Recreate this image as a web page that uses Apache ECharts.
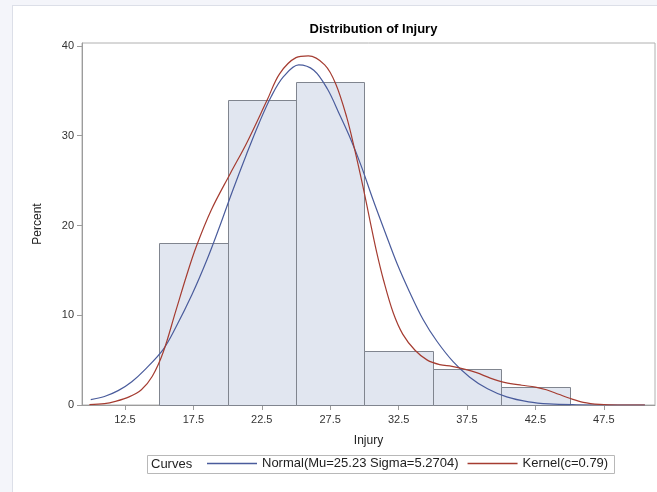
<!DOCTYPE html>
<html>
<head>
<meta charset="utf-8">
<title>Distribution of Injury</title>
<script src="https://cdn.jsdelivr.net/npm/echarts@6/dist/echarts.min.js"></script>
<style>
  html, body { margin: 0; padding: 0; background: #f4f5fa; }
  #panel { position: absolute; left: 12px; top: 5px; width: 700px; height: 600px;
           background: #ffffff; border: 1px solid #dcdfe8; box-sizing: border-box; }
  #chart { position: absolute; left: 0; top: 0; width: 657px; height: 492px; }
</style>
</head>
<body>
<div id="panel"></div>
<div id="chart"></div>
<script>
// Histogram bins (lower edge, upper edge) and the percent of observations in each
const binLower = [15, 20, 25, 30, 35, 40];
const binUpper = [20, 25, 30, 35, 40, 45];
const binPercent = [18, 34, 36, 6, 4, 2];

// Fitted normal density curve, in percent units: [injury, percent]
const normalX = [10.0, 11.0, 12.0, 13.0, 14.0, 15.3, 16.2, 17.4, 18.5, 19.4, 20.3, 21.4, 22.3, 23.2, 24.1, 25.2, 26.3, 27.3, 28.2, 29.0, 29.8, 30.6, 31.5, 32.4, 33.3, 34.3, 35.3, 36.5, 37.7, 39.0, 40.4, 42.0, 43.5, 45.5, 48.0, 50.5];
const normalY = [0.6, 0.95, 1.6, 2.6, 4.0, 6.2, 8.6, 12.3, 16.2, 19.8, 23.6, 28.0, 31.4, 34.4, 36.6, 37.9, 37.3, 35.2, 32.3, 29.6, 26.5, 23.0, 19.3, 15.7, 12.6, 9.5, 7.1, 4.8, 3.1, 1.8, 0.9, 0.35, 0.12, 0.03, 0.0, 0.0];

// Kernel density estimate (c=0.79), in percent units
const kernelX = [9.9, 11.0, 11.8, 12.8, 13.7, 14.5, 15.3, 16.2, 17.0, 17.7, 18.8, 20.2, 21.4, 22.9, 23.8, 25.0, 25.9, 27.1, 27.9, 28.7, 29.3, 29.9, 30.4, 30.9, 31.4, 32.1, 32.8, 33.7, 34.6, 35.5, 36.4, 37.3, 38.2, 39.2, 40.3, 41.5, 42.5, 43.3, 44.2, 45.0, 46.0, 47.2, 48.5, 50.5];
const kernelY = [0.05, 0.15, 0.4, 0.9, 1.7, 3.2, 5.9, 10.4, 14.4, 17.6, 21.7, 25.8, 29.2, 34.0, 36.9, 38.7, 38.9, 37.9, 35.8, 32.1, 28.4, 24.3, 20.6, 17.0, 13.9, 10.3, 7.9, 6.1, 5.0, 4.5, 4.3, 4.0, 3.6, 3.0, 2.5, 2.2, 2.0, 1.7, 1.2, 0.75, 0.3, 0.07, 0.0, 0.0];

// Axis tick positions and labels
const xTicks = [12.5, 17.5, 22.5, 27.5, 32.5, 37.5, 42.5, 47.5];
const yTicks = [0, 10, 20, 30, 40];

const chart = echarts.init(document.getElementById('chart'), null, { renderer: 'canvas' });

const FONT = '"Liberation Sans", Arial, Helvetica, sans-serif';
const BLUE = '#4a5c9c';
const RED = '#a53c31';

const pairs = (xs, ys) => xs.map((x, i) => [x, ys[i]]);

chart.setOption({
  animation: false,
  backgroundColor: 'transparent',
  textStyle: { fontFamily: FONT },
  title: {
    text: 'Distribution of Injury',
    left: 368.5, textAlign: 'center', top: 18,
    textStyle: { fontFamily: FONT, fontSize: 13, fontWeight: 'bold', color: '#000' }
  },
  grid: {
    left: 82, right: 2, top: 43, bottom: 87,
    show: true, backgroundColor: '#ffffff', borderColor: '#b0b0b0', borderWidth: 1
  },
  xAxis: {
    type: 'value', min: 9.36, max: 51.24,
    name: 'Injury', nameLocation: 'middle', nameGap: 30,
    nameTextStyle: { fontFamily: FONT, fontSize: 12, color: '#222' },
    axisLine: { show: true, lineStyle: { color: '#9c9c9c' } },
    axisTick: { show: true, length: 5, customValues: xTicks, lineStyle: { color: '#9c9c9c' } },
    axisLabel: { customValues: xTicks, margin: 9, fontSize: 11, color: '#333',
                 fontFamily: FONT, formatter: v => v.toFixed(1) },
    splitLine: { show: false }
  },
  yAxis: {
    type: 'value', min: 0, max: 40.33,
    name: 'Percent', nameLocation: 'middle', nameGap: 38, nameRotate: 90,
    nameTextStyle: { fontFamily: FONT, fontSize: 12, color: '#222' },
    axisLine: { show: true, lineStyle: { color: '#9c9c9c' } },
    axisTick: { show: true, length: 5, customValues: yTicks, lineStyle: { color: '#9c9c9c' } },
    axisLabel: { customValues: yTicks, margin: 8, fontSize: 11, color: '#333', fontFamily: FONT },
    splitLine: { show: false }
  },
  legend: {
    left: 207, top: 457, padding: 0,
    icon: 'rect', itemWidth: 50, itemHeight: 1.5, itemGap: 9,
    textStyle: { fontFamily: FONT, fontSize: 13, color: '#222' },
    data: ['Normal(Mu=25.23 Sigma=5.2704)', 'Kernel(c=0.79)']
  },
  graphic: [
    { type: 'rect', left: 147, top: 455, shape: { width: 467, height: 18 },
      style: { fill: '#ffffff', stroke: '#b8b8b8', lineWidth: 1 }, z: -1 },
    { type: 'text', left: 151, top: 457.5,
      style: { text: 'Curves', font: '13px ' + FONT, fill: '#222' } }
  ],
  series: [
    {
      type: 'custom',
      name: 'Histogram',
      data: binLower.map((lo, i) => [lo, binUpper[i], binPercent[i]]),
      encode: { x: [0, 1], y: 2 },
      z: 1,
      renderItem: (params, api) => {
        const p0 = api.coord([api.value(0), 0]);
        const p1 = api.coord([api.value(1), api.value(2)]);
        return {
          type: 'rect',
          shape: { x: Math.round(p0[0]) + 0.5, y: Math.round(p1[1]) + 0.5,
                   width: Math.round(p1[0]) - Math.round(p0[0]),
                   height: Math.round(p0[1]) - Math.round(p1[1]) },
          style: { fill: '#e1e6f0', stroke: '#80858f', lineWidth: 1 }
        };
      }
    },
    {
      type: 'line', name: 'Normal(Mu=25.23 Sigma=5.2704)',
      data: pairs(normalX, normalY), smooth: 0.35, showSymbol: false, symbol: 'none',
      lineStyle: { color: BLUE, width: 1.2 }, itemStyle: { color: BLUE }, z: 3
    },
    {
      type: 'line', name: 'Kernel(c=0.79)',
      data: pairs(kernelX, kernelY), smooth: 0.35, showSymbol: false, symbol: 'none',
      lineStyle: { color: RED, width: 1.2 }, itemStyle: { color: RED }, z: 4
    }
  ]
});
</script>
</body>
</html>
